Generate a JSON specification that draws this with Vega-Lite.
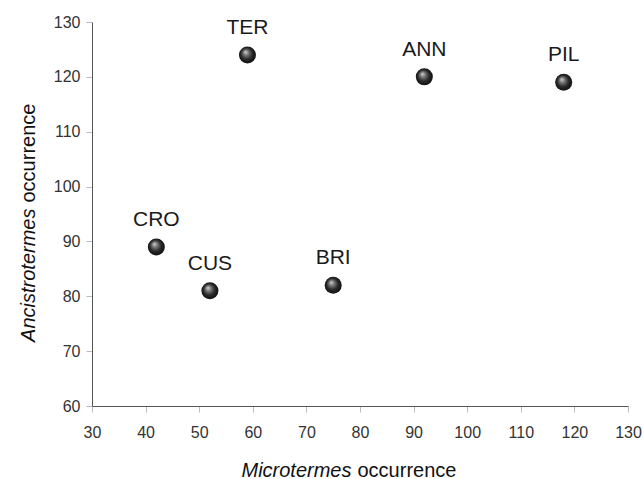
{
  "$schema": "https://vega.github.io/schema/vega-lite/v6.json",
  "width": 536,
  "height": 384,
  "autosize": {"type": "none"},
  "padding": {"left": 92, "top": 22, "right": 15, "bottom": 73},
  "background": "white",
  "config": {
    "view": {"stroke": null},
    "font": "Liberation Sans",
    "axis": {
      "grid": false,
      "domainColor": "#555555",
      "domainWidth": 1,
      "tickColor": "#bbbbbb",
      "tickSize": 6,
      "labelFont": "Liberation Sans",
      "labelFontSize": 16,
      "labelColor": "#333333",
      "labelOverlap": false,
      "labelFlush": false,
      "titleFont": "Liberation Sans",
      "titleFontSize": 20,
      "titleFontWeight": "normal",
      "titleColor": "#111111"
    }
  },
  "data": {
    "values": [
      {"site": "TER", "micro": 59, "anc": 124},
      {"site": "ANN", "micro": 92, "anc": 120},
      {"site": "PIL", "micro": 118, "anc": 119},
      {"site": "CRO", "micro": 42, "anc": 89},
      {"site": "CUS", "micro": 52, "anc": 81},
      {"site": "BRI", "micro": 75, "anc": 82}
    ]
  },
  "layer": [
    {
      "mark": {
        "type": "point",
        "shape": "circle",
        "filled": true,
        "size": 290,
        "opacity": 1,
        "strokeWidth": 0,
        "color": {
          "gradient": "radial",
          "x1": 0.38, "y1": 0.32, "r1": 0,
          "x2": 0.5, "y2": 0.5, "r2": 0.55,
          "stops": [
            {"offset": 0, "color": "#d8d8d8"},
            {"offset": 0.25, "color": "#808080"},
            {"offset": 0.6, "color": "#2a2a2a"},
            {"offset": 1, "color": "#0a0a0a"}
          ]
        }
      },
      "encoding": {
        "x": {
          "field": "micro", "type": "quantitative",
          "scale": {"domain": [30, 130], "nice": false, "zero": false},
          "axis": {
            "orient": "bottom",
            "values": [30, 40, 50, 60, 70, 80, 90, 100, 110, 120, 130],
            "labelPadding": 12,
            "title": "Microtermes",
            "titleFontStyle": "italic",
            "titleAlign": "right",
            "titleAnchor": null,
            "titleBaseline": "alphabetic",
            "titleX": 259,
            "titleY": 70
          }
        },
        "y": {
          "field": "anc", "type": "quantitative",
          "scale": {"domain": [60, 130], "nice": false, "zero": false},
          "axis": {
            "orient": "left",
            "values": [60, 70, 80, 90, 100, 110, 120, 130],
            "labelPadding": 6,
            "title": "Ancistrotermes",
            "titleFontStyle": "italic",
            "titleAngle": -90,
            "titleAlign": "right",
            "titleAnchor": null,
            "titleBaseline": "alphabetic",
            "titleX": -58,
            "titleY": 186
          }
        }
      }
    },
    {
      "mark": {"type": "text", "dy": -27, "fontSize": 21, "color": "#1a1a1a", "font": "Liberation Sans"},
      "encoding": {
        "x": {
          "field": "micro", "type": "quantitative",
          "axis": {
            "orient": "bottom",
            "domain": false,
            "ticks": false,
            "labels": false,
            "title": "occurrence",
            "titleAlign": "left",
            "titleAnchor": null,
            "titleBaseline": "alphabetic",
            "titleX": 265,
            "titleY": 70
          }
        },
        "y": {
          "field": "anc", "type": "quantitative",
          "axis": {
            "orient": "left",
            "domain": false,
            "ticks": false,
            "labels": false,
            "title": "occurrence",
            "titleAngle": -90,
            "titleAlign": "left",
            "titleAnchor": null,
            "titleBaseline": "alphabetic",
            "titleX": -58,
            "titleY": 180
          }
        },
        "text": {"field": "site", "type": "nominal"}
      }
    }
  ],
  "resolve": {"axis": {"x": "independent", "y": "independent"}}
}
